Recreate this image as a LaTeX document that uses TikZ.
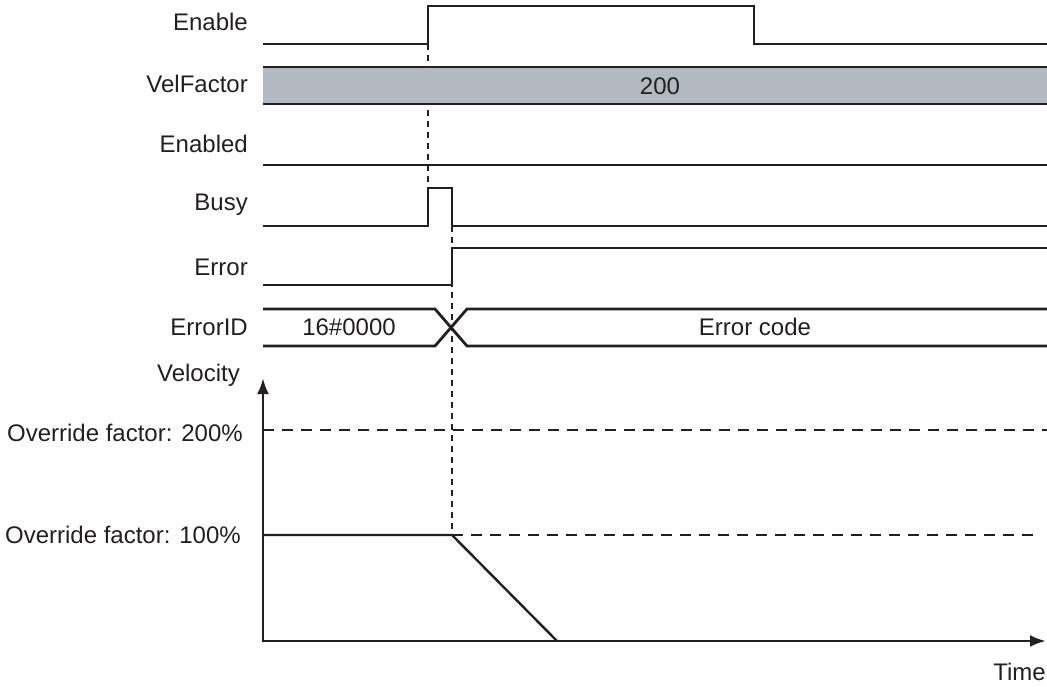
\documentclass[tikz,border=0pt]{standalone}
\usepackage{fontspec}
\setmainfont{Liberation Sans}
\usepackage{xcolor}
\usepackage{tikz}
\usetikzlibrary{arrows.meta,positioning}

\definecolor{sigblack}{HTML}{231F20}
\definecolor{busgray}{HTML}{B3B9C0}

\begin{document}
\begin{tikzpicture}[
  x=1pt, y=-1pt,
  sig/.style={draw=sigblack, line width=2.8pt, line join=miter},
  guide/.style={draw=sigblack, line width=1.4pt, dash pattern=on 6pt off 5pt},
  level/.style={draw=sigblack, line width=1.8pt, dash pattern=on 11pt off 8pt},
  axis/.style={draw=sigblack, line width=2.8pt,
    {Latex[length=16pt,width=12pt]}-{Latex[length=16pt,width=12pt]}},
  lbl/.style={anchor=east, inner sep=0pt, text=sigblack,
    font=\fontsize{24}{28}\selectfont},
  val/.style={inner sep=0pt, text=sigblack,
    font=\fontsize{24}{28}\selectfont},
]
\useasboundingbox (0,0) rectangle (1047,687);

%% ── Signal names ─────────────────────────────────────────────────
\node[lbl] (enable)   at (248,22)  {Enable};
\node[lbl] (velfac)   at (248,84)  {VelFactor};
\node[lbl] (enabled)  at (248,144) {Enabled};
\node[lbl] (busy)     at (248,205) {Busy};
\node[lbl] (error)    at (248,267) {Error};
\node[lbl] (errid)    at (248,327) {ErrorID};

%% ── Guide lines (behind the waveforms) ───────────────────────────
\draw[guide] (428,44) -- (428,188);
\draw[guide] (452,226) -- (452,535);

%% ── Waveforms ────────────────────────────────────────────────────
\draw[sig] (263,44) -- (428,44) -- (428,6) -- (754,6) -- (754,44) -- (1047,44);

\fill[busgray] (263,67) rectangle (1047,104);
\draw[sig] (263,67)  -- (1047,67);
\draw[sig] (263,104) -- (1047,104);
\node[val] (facval) at (660,86) {200};

\draw[sig] (263,165) -- (1047,165);

\draw[sig] (263,226) -- (428,226) -- (428,188) -- (452,188) -- (452,226) -- (1047,226);

\draw[sig] (263,285) -- (452,285) -- (452,248) -- (1047,248);

\draw[sig] (263,309) -- (435,309) -- (467,346) -- (1047,346);
\draw[sig] (263,346) -- (435,346) -- (467,309) -- (1047,309);
\node[val] (oldid) at (349,327) {16\#0000};
\node[val] (newid) at (755,327) {Error code};

%% ── Velocity graph ───────────────────────────────────────────────
\coordinate (vtop)   at (263,378);
\coordinate (origin) at (263,641);
\coordinate (tend)   at (1046,641);

\draw[level] (263,430) -- (1047,430);
\draw[level] (452,535) -- (1040,535);

\draw[axis] (vtop) -- (origin) -- (tend);
\draw[sig, line width=2.4pt] (263,535) -- (452,535) -- (557,641);

\node[lbl] (vel)   at (240,375)  {Velocity};
\node[lbl] (ov200) at (243,433)  {Override factor: 200\%};
\node[lbl] (ov100) at (241,535)  {Override factor: 100\%};
\node[lbl] (time)  at (1046,672) {Time};

\end{tikzpicture}
\end{document}
